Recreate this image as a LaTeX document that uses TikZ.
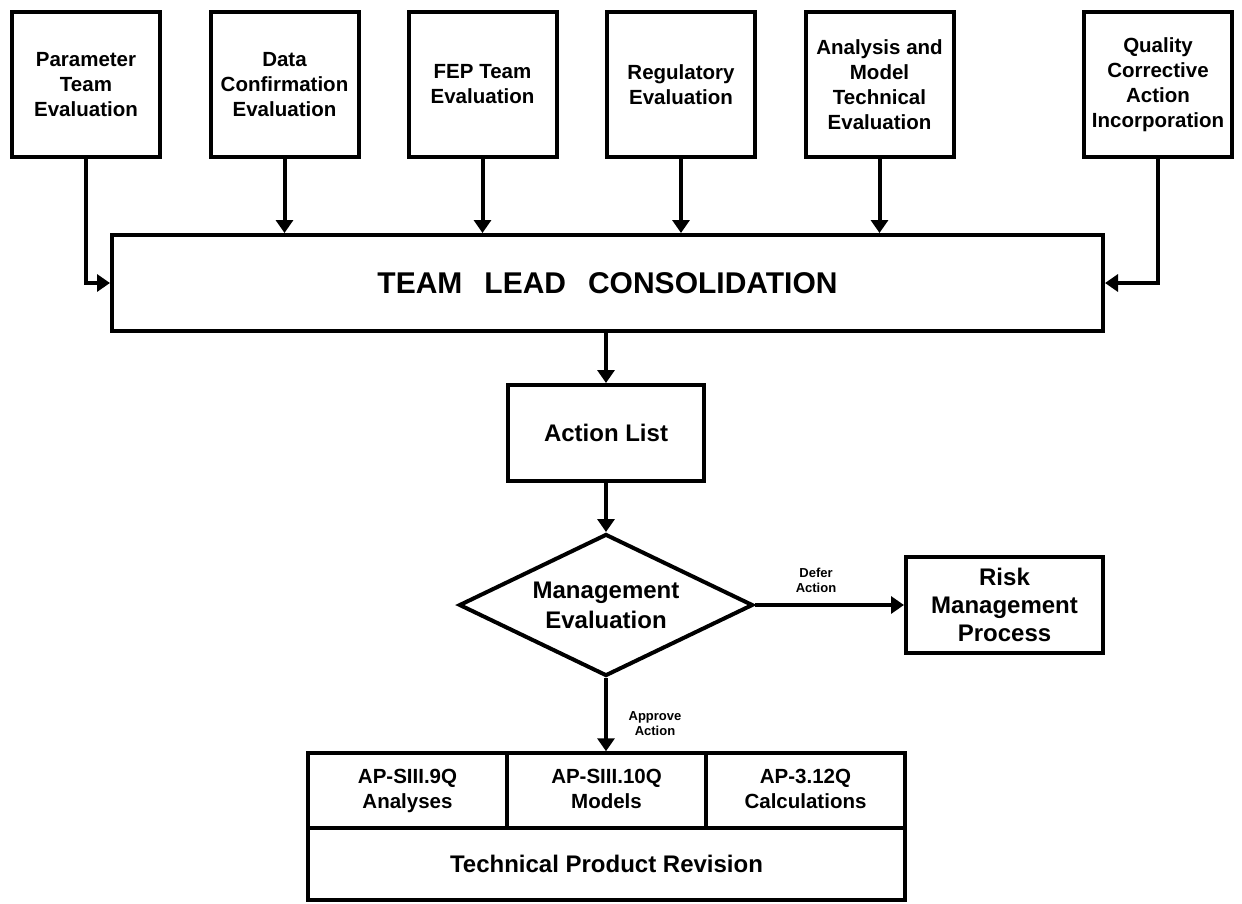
\documentclass[tikz,border=0pt]{standalone}
\usepackage{fontspec}
\setmainfont{Liberation Sans}
\usetikzlibrary{arrows.meta,shapes.geometric}
\begin{document}
\begin{tikzpicture}[x=1pt,y=-1pt,
  box/.style={draw, line width=4pt, inner sep=0pt, align=center},
  topbox/.style={box, minimum width=148pt, minimum height=145pt,
    font=\bfseries\fontsize{20.5}{25}\selectfont},
  midbox/.style={box, minimum width=196pt, minimum height=96pt,
    font=\bfseries\fontsize{24}{28}\selectfont},
  cell/.style={box, line width=3.5pt, minimum width=199pt, minimum height=75pt,
    font=\bfseries\fontsize{20.5}{25}\selectfont},
  smalllbl/.style={align=center, inner sep=0pt, font=\bfseries\fontsize{13}{15}\selectfont},
  arr/.style={line width=4pt, -{Triangle[width=17pt,length=13pt]}}
]
\useasboundingbox (0,0) rectangle (1242,903);

% top boxes
\node[topbox] (b1) at (86,84.5) {Parameter\\Team\\Evaluation};
\node[topbox] (b2) at (284.5,84.5) {Data\\Confirmation\\Evaluation};
\node[topbox] (b3) at (482.5,84.5) {FEP Team\\Evaluation};
\node[topbox] (b4) at (681,84.5) {Regulatory\\Evaluation};
\node[topbox] (b5) at (879.5,84.5) {Analysis and\\Model\\Technical\\Evaluation};
\node[topbox] (b6) at (1158,84.5) {Quality\\Corrective\\Action\\Incorporation};

% consolidation
\node[box, minimum width=991pt, minimum height=96pt,
  font=\bfseries\fontsize{30}{34}\selectfont] (cons) at (607.5,283)
  {TEAM\hspace{22pt}LEAD\hspace{22pt}CONSOLIDATION};

% action list
\node[midbox] (act) at (606,433) {Action List};

% diamond
\node[draw, line width=4pt, shape=diamond, inner sep=0pt, aspect=2.04,
  minimum width=294pt, minimum height=142pt, align=center,
  font=\bfseries\fontsize{24}{30}\selectfont] (dia) at (606,605) {Management\\Evaluation};

% risk
\node[midbox, minimum width=197pt] (risk) at (1004.5,605) {Risk\\Management\\Process};

% bottom composite
\node[cell] (c1) at (407.5,790.5) {AP-SIII.9Q\\Analyses\vphantom{y}};
\node[cell] (c2) at (606.5,790.5) {AP-SIII.10Q\\Models\vphantom{y}};
\node[cell] (c3) at (805.5,790.5) {AP-3.12Q\\Calculations\vphantom{y}};
\node[box, line width=4pt, minimum width=597pt, minimum height=72pt,
  font=\bfseries\fontsize{24}{28}\selectfont] (tpr) at (606.5,864) {Technical Product Revision};

% connectors
\draw[arr] (b1.south) |- (cons.west);
\draw[arr] (b2.south) -- (b2.south |- cons.north);
\draw[arr] (b3.south) -- (b3.south |- cons.north);
\draw[arr] (b4.south) -- (b4.south |- cons.north);
\draw[arr] (b5.south) -- (b5.south |- cons.north);
\draw[arr] (b6.south) |- (cons.east);
\draw[arr] (act.north |- cons.south) -- (act.north);
\draw[arr] (act.south) -- (dia.north);
\draw[arr] (dia.east) -- (risk.west);
\draw[arr] (dia.south) -- (dia.south |- c2.north);

% labels
\node[smalllbl] (ldefer) at (816,580) {Defer\\Action};
\node[smalllbl] (lappr) at (655,724) {Approve\\Action};
\end{tikzpicture}
\end{document}
